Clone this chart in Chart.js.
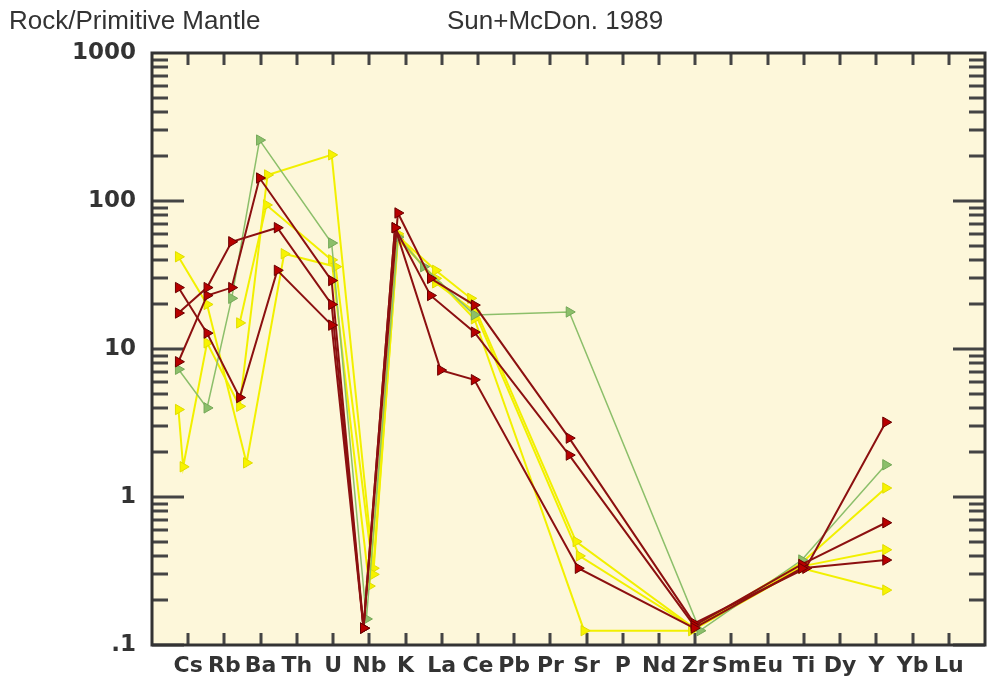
<!DOCTYPE html>
<html>
<head>
<meta charset="utf-8">
<script src="https://cdn.jsdelivr.net/npm/chart.js@4"></script>
<style>
  html, body { margin: 0; padding: 0; background: #ffffff; }
  #wrap { width: 992px; height: 684px; }
</style>
</head>
<body>
<div id="wrap"><canvas id="spider" width="992" height="684"></canvas></div>
<script>
// element order (Sun & McDonough 1989 primitive mantle)
const elements = ["Cs","Rb","Ba","Th","U","Nb","K","La","Ce","Pb","Pr","Sr","P","Nd","Zr","Sm","Eu","Ti","Dy","Y","Yb","Lu"];
const yTicks = [0.1, 1, 10, 100, 1000];

// [position along the element axis, rock / primitive mantle]
const redA = [[-0.27,26],[0.52,12.8],[1.42,4.7],[2.46,34],[3.96,14.5],[4.84,0.13],[5.71,66],[6.97,7.2],[7.9,6.2],[10.77,0.33],[13.97,0.13],[16.94,0.33],[19.26,0.375]];
const redB = [[-0.27,17.5],[0.52,26],[1.2,53],[2.46,66],[3.96,20],[4.84,0.13],[5.71,66],[6.69,23],[7.9,13],[10.52,1.92],[13.97,0.135],[16.94,0.35],[19.26,0.67]];
const redC = [[-0.27,8.2],[0.52,23],[1.2,26],[1.97,143],[3.96,29],[4.84,0.13],[5.79,83],[6.69,30],[7.9,19.8],[10.52,2.5],[13.97,0.14],[17.05,0.33],[19.26,3.2]];
const green1 = [[-0.27,7.3],[0.52,4.0],[1.2,22],[1.97,258],[3.96,52],[4.92,0.15],[5.79,57],[6.5,36],[7.9,17],[10.52,17.8],[14.13,0.125],[16.94,0.375],[19.26,1.65]];
const yellow1 = [[-0.27,42],[0.52,20],[1.61,1.7],[2.65,44],[4.07,36],[5.11,0.3],[5.79,58],[6.83,34],[7.8,22],[10.71,0.5],[13.97,0.13],[16.94,0.36],[19.26,1.15]];
const yellow2 = [[-0.27,3.9],[-0.14,1.6],[0.52,11],[1.42,4.1],[2.19,150],[3.96,205],[5.11,0.33],[5.79,55],[6.83,30],[7.9,16],[10.93,0.125],[13.9,0.125],[16.94,0.33],[19.26,0.235]];
const yellow3 = [[1.42,15],[2.16,94],[3.96,40],[5.0,0.25],[5.79,60],[6.83,28],[7.9,18],[10.8,0.4],[13.97,0.13],[16.94,0.34],[19.26,0.44]];

const BG = "#fdf7da";
const INK = "#333333";

function series(points, line, fill, edge, width) {
  return {
    data: points.map(p => ({ x: p[0], y: p[1] })),
    borderColor: line,
    borderWidth: width,
    backgroundColor: fill,
    pointBackgroundColor: fill,
    pointBorderColor: edge,
    pointBorderWidth: 1,
    pointStyle: "triangle",
    pointRotation: 90,
    pointRadius: 6,
    tension: 0,
    fill: false
  };
}

// frame, inward ticks and header texts
const framePlugin = {
  id: "frame",
  beforeDatasetsDraw(chart) {
    const { ctx, chartArea: a, scales } = chart;
    ctx.save();
    ctx.fillStyle = BG;
    ctx.fillRect(a.left, a.top, a.right - a.left, a.bottom - a.top);
    ctx.strokeStyle = "#444";
    ctx.lineWidth = 3;
    ctx.beginPath();
    // bottom and top ticks at each element
    elements.forEach((el, i) => {
      const x = Math.round(scales.x.getPixelForValue(i));
      ctx.moveTo(x, a.bottom); ctx.lineTo(x, a.bottom - 12);
      ctx.moveTo(x, a.top); ctx.lineTo(x, a.top + 12);
    });
    // log ticks on left and right
    for (let d = 0.1; d < 1000; d *= 10) {
      for (let k = 1; k < 10; k++) {
        const y = Math.round(scales.y.getPixelForValue(d * k));
        const len = k === 1 ? 32 : 16;
        ctx.moveTo(a.left, y); ctx.lineTo(a.left + len, y);
        ctx.moveTo(a.right, y); ctx.lineTo(a.right - len, y);
      }
    }
    ctx.stroke();
    ctx.restore();
  },
  afterDraw(chart) {
    const { ctx, chartArea: a } = chart;
    ctx.save();
    ctx.strokeStyle = INK;
    ctx.lineWidth = 3;
    ctx.strokeRect(a.left, a.top, a.right - a.left, a.bottom - a.top);
    ctx.fillStyle = INK;
    ctx.font = "26px 'Liberation Sans', Arial, sans-serif";
    ctx.textBaseline = "middle";
    ctx.textAlign = "left";
    ctx.fillText("Rock/Primitive Mantle", 9, 22);
    ctx.fillText("Sun+McDon. 1989", 447, 22);
    ctx.restore();
  }
};

new Chart(document.getElementById("spider").getContext("2d"), {
  type: "line",
  data: {
    datasets: [
      series(redA, "#8c1010", "#b80000", "#6a0000", 2),
      series(redB, "#8c1010", "#b80000", "#6a0000", 2),
      series(redC, "#8c1010", "#b80000", "#6a0000", 2),
      series(green1, "#8cbf6a", "#8cbf6a", "#74a858", 1.5),
      series(yellow1, "#f2f000", "#f7f300", "#e0dc00", 2),
      series(yellow2, "#f2f000", "#f7f300", "#e0dc00", 2),
      series(yellow3, "#f2f000", "#f7f300", "#e0dc00", 2)
    ]
  },
  options: {
    responsive: false,
    animation: false,
    layout: { padding: { top: 53, right: 2, left: 0, bottom: 0 } },
    plugins: {
      legend: { display: false },
      tooltip: { enabled: false }
    },
    scales: {
      x: {
        type: "linear",
        min: -1,
        max: 22,
        grid: { display: false, drawTicks: false },
        border: { display: false },
        afterBuildTicks: (scale) => {
          scale.ticks = elements.map((el, i) => ({ value: i }));
        },
        afterFit: (scale) => { scale.height = 39; },
        ticks: {
          autoSkip: false,
          maxRotation: 0,
          padding: 8,
          color: INK,
          font: { family: "'DejaVu Sans', sans-serif", size: 22, weight: "bold" },
          callback: (v) => elements[v] || ""
        }
      },
      y: {
        type: "logarithmic",
        min: 0.1,
        max: 1000,
        grid: { display: false, drawTicks: false },
        border: { display: false },
        afterBuildTicks: (scale) => {
          scale.ticks = yTicks.map(v => ({ value: v }));
        },
        afterFit: (scale) => { scale.width = 152; },
        ticks: {
          padding: 16,
          color: INK,
          font: { family: "'DejaVu Sans', sans-serif", size: 23, weight: "bold" },
          callback: (v) => (v === 0.1 ? ".1" : String(v))
        }
      }
    }
  },
  plugins: [framePlugin]
});
</script>
</body>
</html>
